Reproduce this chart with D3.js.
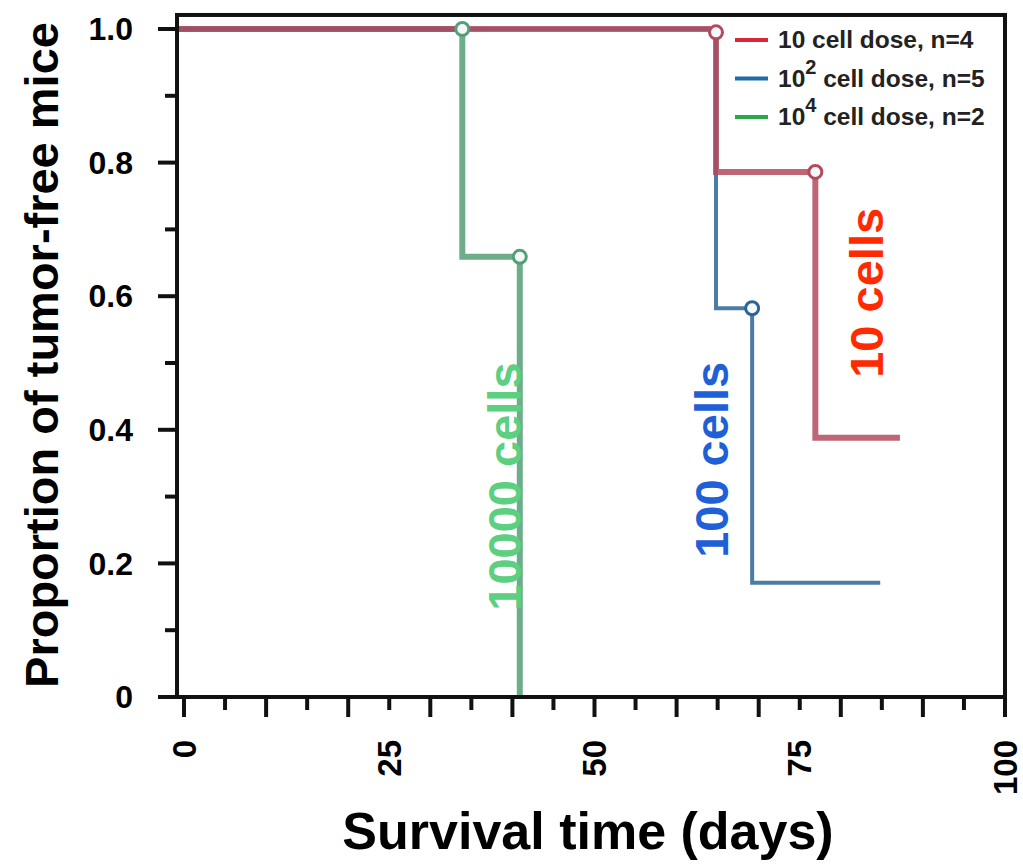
<!DOCTYPE html>
<html>
<head>
<meta charset="utf-8">
<script src="https://cdn.jsdelivr.net/npm/d3@7"></script>
<style>
  body { margin: 0; background: #fff; }
  text { font-family: Arial, "Liberation Sans", sans-serif; font-weight: bold; }
</style>
</head>
<body>
<div id="chart"></div>
<script>
// Kaplan-Meier style step curves (day, proportion)
var redSteps   = [[0, 1.0], [64.8, 1.0], [64.8, 0.786], [76.9, 0.786], [76.9, 0.388], [87.2, 0.388]];
var blueSteps  = [[0, 1.0], [64.8, 1.0], [64.8, 0.582], [69.2, 0.582], [69.2, 0.171], [84.8, 0.171]];
var greenSteps = [[0, 1.0], [33.9, 1.0], [33.9, 0.659], [40.9, 0.659], [40.9, 0.0]];

// censor marks
var redCensor   = [[64.8, 0.995], [76.9, 0.786]];
var blueCensor  = [[69.2, 0.582]];
var greenCensor = [[33.9, 1.0], [40.9, 0.659]];

var xTickLabels = [0, 25, 50, 75, 100];
var yTickLabels = [0, 0.2, 0.4, 0.6, 0.8, 1.0];

var legendNames = [
  {base: "10", sup: "", rest: " cell dose, n=4"},
  {base: "10", sup: "2", rest: " cell dose, n=5"},
  {base: "10", sup: "4", rest: " cell dose, n=2"}
];

var annotations = [
  {text: "10 cells",    day: 85.1, p: 0.605, color: "#ff2a00"},
  {text: "100 cells",   day: 66.3, p: 0.355, color: "#1f5fd8"},
  {text: "10000 cells", day: 41.0, p: 0.315, color: "#5ccf80"}
];

var width = 1023, height = 864;

var x = d3.scaleLinear().domain([0, 100]).range([184, 1005]);
var y = d3.scaleLinear().domain([0, 1]).range([697, 29]);

var svg = d3.select("#chart").append("svg")
  .attr("width", width)
  .attr("height", height);

var frameL = x(-0.85), frameR = x(100), frameT = y(1.021), frameB = y(0);

// curves
var line = d3.line()
  .x(function(d) { return x(d[0]); })
  .y(function(d) { return y(d[1]); });

var series = [
  {steps: greenSteps, censor: greenCensor, color: "#559f76", w: 6},
  {steps: blueSteps,  censor: blueCensor,  color: "#2c6595", w: 4},
  {steps: redSteps,   censor: redCensor,   color: "#b34a5e", w: 6}
];

series.forEach(function(s) {
  var pts = [[-0.85, s.steps[0][1]]].concat(s.steps);
  svg.append("path")
    .attr("d", line(pts))
    .attr("fill", "none")
    .attr("stroke", s.color)
    .attr("stroke-opacity", 0.85)
    .attr("stroke-width", s.w);
});

series.forEach(function(s) {
  svg.selectAll(null)
    .data(s.censor)
    .enter()
    .append("circle")
    .attr("cx", function(d) { return x(d[0]); })
    .attr("cy", function(d) { return y(d[1]); })
    .attr("r", 6.5)
    .attr("fill", "#f4f8f8")
    .attr("stroke", s.color)
    .attr("stroke-width", 3);
});

// frame
svg.append("rect")
  .attr("x", frameL).attr("y", frameT)
  .attr("width", frameR - frameL).attr("height", frameB - frameT)
  .attr("fill", "none")
  .attr("stroke", "#111")
  .attr("stroke-width", 4);

// x axis ticks
var xMinor = d3.range(0, 101, 5);
var gx = svg.append("g").attr("transform", "translate(0," + frameB + ")");
gx.selectAll("line")
  .data(xMinor)
  .enter()
  .append("line")
  .attr("x1", function(d) { return x(d); })
  .attr("x2", function(d) { return x(d); })
  .attr("y1", 0)
  .attr("y2", function(d) { return d % 10 == 0 ? 20 : 13; })
  .attr("stroke", "#111")
  .attr("stroke-width", 4);

gx.selectAll("text")
  .data(xTickLabels)
  .enter()
  .append("text")
  .attr("transform", function(d) { return "translate(" + x(d) + ",43) rotate(-90)"; })
  .attr("text-anchor", "end")
  .attr("dy", "0.35em")
  .style("font-size", "33px")
  .attr("fill", "#000")
  .text(function(d) { return d; });

// y axis ticks
var yMinor = d3.range(0, 11).map(function(i) { return i / 10; });
var gy = svg.append("g").attr("transform", "translate(" + frameL + ",0)");
gy.selectAll("line")
  .data(yMinor)
  .enter()
  .append("line")
  .attr("x1", 0)
  .attr("x2", function(d, i) { return i % 2 == 0 ? -19 : -12; })
  .attr("y1", function(d) { return y(d); })
  .attr("y2", function(d) { return y(d); })
  .attr("stroke", "#111")
  .attr("stroke-width", 4);

gy.selectAll("text")
  .data(yTickLabels)
  .enter()
  .append("text")
  .attr("x", -44)
  .attr("y", function(d) { return y(d); })
  .attr("dy", "0.35em")
  .attr("text-anchor", "end")
  .style("font-size", "32px")
  .attr("fill", "#000")
  .text(function(d) { return d == 0 ? "0" : d3.format(".1f")(d); });

// axis titles
svg.append("text")
  .attr("x", 588)
  .attr("y", 849)
  .attr("text-anchor", "middle")
  .style("font-size", "52px")
  .text("Survival time (days)");

svg.append("text")
  .attr("transform", "translate(58,355) rotate(-90)")
  .attr("text-anchor", "middle")
  .style("font-size", "47px")
  .text("Proportion of tumor-free mice");

// in-plot labels
svg.selectAll(".anno")
  .data(annotations)
  .enter()
  .append("text")
  .attr("class", "anno")
  .attr("transform", function(d) { return "translate(" + x(d.day) + "," + y(d.p) + ") rotate(-90)"; })
  .attr("text-anchor", "middle")
  .style("font-size", "47px")
  .attr("fill", function(d) { return d.color; })
  .text(function(d) { return d.text; });

// legend
var legendColors = ["#d8283a", "#1f6aa8", "#2aa84a"];
var legend = svg.append("g").attr("transform", "translate(735,40)");
var rows = legend.selectAll("g")
  .data(legendNames)
  .enter()
  .append("g")
  .attr("transform", function(d, i) { return "translate(0," + (i * 38.5) + ")"; });

rows.append("line")
  .attr("x1", 0).attr("x2", 33)
  .attr("y1", 0).attr("y2", 0)
  .attr("stroke", function(d, i) { return legendColors[i]; })
  .attr("stroke-width", 4);

var lt = rows.append("text")
  .attr("x", 43)
  .attr("y", 8)
  .style("font-size", "24.5px")
  .attr("fill", "#222");
lt.append("tspan").text(function(d) { return d.base; });
lt.append("tspan")
  .attr("dy", function(d) { return d.sup ? -13 : 0; })
  .style("font-size", "20px")
  .text(function(d) { return d.sup; });
lt.append("tspan")
  .attr("dy", function(d) { return d.sup ? 13 : 0; })
  .text(function(d) { return d.rest; });
</script>
</body>
</html>
